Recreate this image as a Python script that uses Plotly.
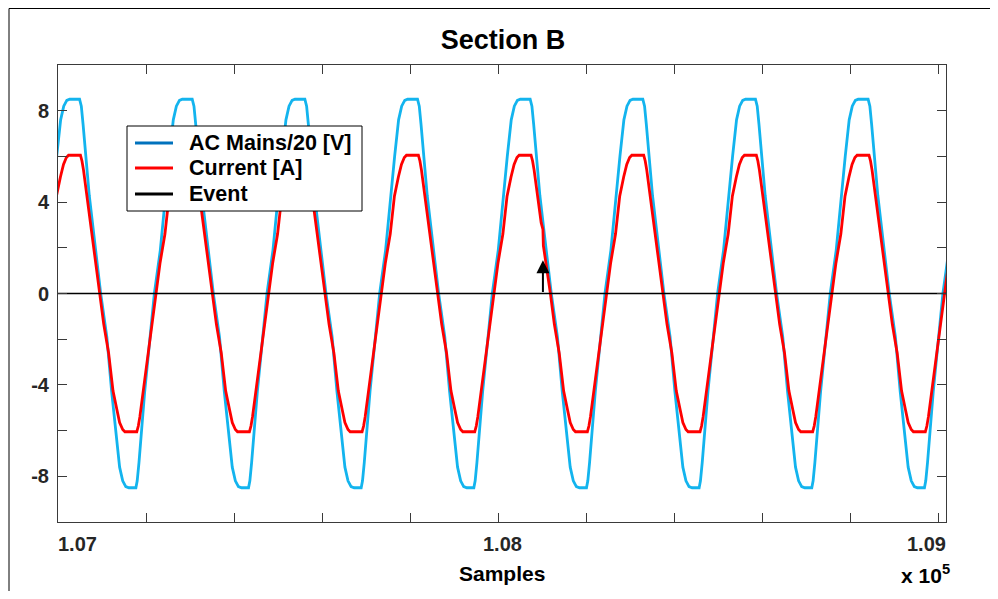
import numpy as np
import plotly.graph_objects as go

# ---- data (sample index, values) ----
# one mains cycle, offsets in samples from the current's falling zero crossing
volt_offsets = [2, 16, 27, 36, 45, 52, 59, 66, 82, 85, 89, 102, 124,
                137.5, 149, 158, 167, 174, 181, 187.5, 210, 214, 218, 232]
volt_values = [0, -1.9, -4.3, -6.0, -7.6, -8.2, -8.45, -8.5, -8.5, -8.2, -7.4, -4.3, 0,
               1.9, 4.3, 6.0, 7.6, 8.2, 8.45, 8.5, 8.5, 8.2, 7.4, 4.3]
curr_offsets = [0, 9, 20, 30, 39, 45, 52, 57, 84, 87.5, 91, 109, 128,
                137, 148, 157.5, 166.5, 173.5, 180, 185, 212, 215.5, 219, 237]
curr_values = [0, -1.35, -2.6, -4.26, -5.1, -5.65, -5.95, -6.05, -6.05, -5.8, -5.4, -2.8, 0,
               1.35, 2.6, 4.26, 5.1, 5.65, 5.95, 6.05, 6.05, 5.8, 5.4, 2.8]
# falling zero crossings of the current
cycle_starts = [106839, 107095, 107351, 107607, 107863, 108119, 108375, 108631, 108887]
# current glitch at the event
glitch_x = [108098, 108102, 108103]
glitch_y = [3.1, 2.8, 2.1]
event_sample = 108102
event_arrow_top = 1.45
event_x = [107000, 109018]
event_y = [0, 0]

x_range = [107000, 109018]
y_range = [-10, 10]
y_major_vals = [-8, -4, 0, 4, 8]
y_major_text = ['-8', '-4', '0', '4', '8']
y_minor_vals = [-10, -6, -2, 2, 6, 10]
x_tick_vals = [107000, 107200, 107400, 107600, 107800, 108000,
               108200, 108400, 108600, 108800, 109000]
x_label_vals = [107000, 108000, 109000]
x_label_text = ['1.07', '1.08', '1.09']
legend_names = ['AC Mains/20 [V]', 'Current [A]', 'Event']

# ---- build series ----
vx = np.concatenate([s + np.array(volt_offsets) for s in cycle_starts])
vy = np.tile(volt_values, len(cycle_starts))
cx = np.concatenate([s + np.array(curr_offsets) for s in cycle_starts])
cy = np.tile(curr_values, len(cycle_starts)).astype(float)
keep = (cx < 108095) | (cx > 108110)
cx = np.concatenate([cx[keep], glitch_x])
cy = np.concatenate([cy[keep], glitch_y])
order = np.argsort(cx, kind='stable')
cx, cy = cx[order], cy[order]

FONT = 'Liberation Sans'
VCOL = '#13B4EE'
VLEG = '#0072BD'
CCOL = '#FF0000'
AXC = '#3a3a3a'
TXT = '#262626'

# page is offset by the 8px body margin; plot area in page px: x 58..946, y 65..522
W, H = 982, 583
PL, PR, PT, PB = 58, 946, 65, 522


def px(xp):
    return (xp - PL) / (PR - PL)


def py(yp):
    return (PB - yp) / (PB - PT)


fig = go.Figure()
fig.add_trace(go.Scatter(x=vx, y=vy, mode='lines', line=dict(color=VCOL, width=2.8),
                         name=legend_names[0]))
fig.add_trace(go.Scatter(x=cx, y=cy, mode='lines', line=dict(color=CCOL, width=2.8),
                         name=legend_names[1]))
fig.add_trace(go.Scatter(x=event_x, y=event_y, mode='lines', line=dict(color='black', width=1.3),
                         name=legend_names[2]))

fig.add_annotation(x=event_sample, y=event_arrow_top, ax=event_sample, ay=0,
                   xref='x', yref='y', axref='x', ayref='y', text='', showarrow=True,
                   arrowhead=2, arrowwidth=2, arrowsize=1.3, arrowcolor='black')

anchors = ['left', 'center', 'right']
shifts = [-2, 4, 10]
for v, t, a, sh in zip(x_label_vals, x_label_text, anchors, shifts):
    fig.add_annotation(x=v, y=0, xref='x', yref='paper', text=t, showarrow=False,
                       xanchor=a, yanchor='middle', xshift=sh, yshift=-22,
                       font=dict(family=FONT, size=20, color=TXT, weight='bold'))
fig.add_annotation(x=0.5, y=0, xref='paper', yref='paper', text='Samples', showarrow=False,
                   xanchor='center', yanchor='middle', yshift=-51,
                   font=dict(family=FONT, size=21, color='black', weight='bold'))
fig.add_annotation(x=1, y=0, xref='paper', yref='paper', text='x 10<sup>5</sup>', showarrow=False,
                   xanchor='right', yanchor='middle', xshift=6, yshift=-52,
                   font=dict(family=FONT, size=21, color='black', weight='bold'))

# manual legend (MATLAB style)
fig.add_shape(type='rect', xref='paper', yref='paper', x0=px(127), x1=px(362), y0=py(211), y1=py(126),
              line=dict(color='black', width=1), fillcolor='white', layer='above')
leg_cols = [VLEG, CCOL, 'black']
leg_rows = [143, 168, 194]
for nm, col, r in zip(legend_names, leg_cols, leg_rows):
    fig.add_shape(type='line', xref='paper', yref='paper', x0=px(135), x1=px(173), y0=py(r), y1=py(r),
                  line=dict(color=col, width=3), layer='above')
    fig.add_annotation(x=px(187), y=py(r), xref='paper', yref='paper', text=nm, showarrow=False,
                       xanchor='left', yanchor='middle',
                       font=dict(family=FONT, size=21.5, color='black', weight='bold'))

# figure border
fig.add_shape(type='line', xref='paper', yref='paper', x0=px(9), x1=px(9), y0=py(620), y1=py(8.5),
              line=dict(color='black', width=1))
fig.add_shape(type='line', xref='paper', yref='paper', x0=px(9), x1=px(1010), y0=py(8.5), y1=py(8.5),
              line=dict(color='black', width=1))

fig.update_layout(
    width=W, height=H,
    margin=dict(l=PL - 8, r=W - (PR - 8), t=PT - 8, b=H - (PB - 8)),
    paper_bgcolor='white', plot_bgcolor='white',
    title=dict(text='Section B', xref='paper', x=px(503), xanchor='center',
               y=1 - 32 / H, yanchor='middle',
               font=dict(family=FONT, size=27, color='black', weight='bold')),
    showlegend=False,
)
fig.update_xaxes(range=x_range, tickvals=x_tick_vals, showticklabels=False, ticks='inside',
                 ticklen=9, tickwidth=1, tickcolor=AXC, showline=True, linecolor=AXC, linewidth=1,
                 mirror='ticks', showgrid=False, zeroline=False)
fig.update_yaxes(range=y_range, tickvals=y_major_vals, ticktext=y_major_text, ticks='inside',
                 ticklen=9, tickwidth=1, tickcolor=AXC, showline=True, linecolor=AXC, linewidth=1,
                 mirror='ticks', showgrid=False, zeroline=False, ticklabelstandoff=4,
                 minor=dict(tickvals=y_minor_vals, ticks='inside', ticklen=9, tickwidth=1,
                            tickcolor=AXC, showgrid=False),
                 tickfont=dict(family=FONT, size=20, color=TXT, weight='bold'))

fig.write_html('out.html')
